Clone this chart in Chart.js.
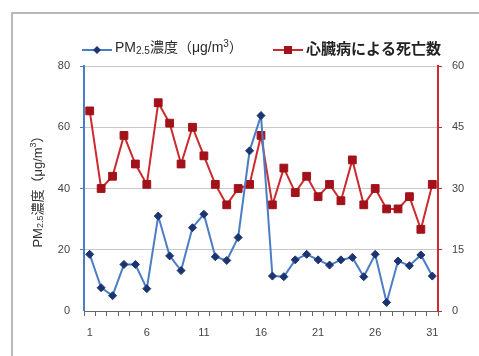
<!DOCTYPE html>
<html>
<head>
<meta charset="utf-8">
<script src="https://cdn.jsdelivr.net/npm/chart.js@4/dist/chart.umd.min.js"></script>
<style>
  body { margin: 0; background: #fff; }
  #wrap { position: relative; width: 479px; height: 356px; overflow: hidden; }
  #marco { position: absolute; left: 11px; top: 12px; width: 600px; height: 600px; border: 2px solid #b8b8b8; }
  #grafico { position: absolute; left: 0; top: 0; }
</style>
</head>
<body>
<div id="wrap">
  <div id="marco"></div>
  <canvas id="grafico" width="479" height="356"></canvas>
</div>
<script>
const dias = ['1','2','3','4','5','6','7','8','9','10','11','12','13','14','15','16',
              '17','18','19','20','21','22','23','24','25','26','27','28','29','30','31'];
const pm25 = [18.5, 7.6, 5, 15.2, 15.2, 7.3, 31, 18, 13.2, 27.2, 31.6, 17.7, 16.5, 24, 52.3, 63.8,
              11.4, 11.2, 16.7, 18.5, 16.7, 15, 16.7, 17.5, 11.2, 18.5, 2.8, 16.3, 14.8, 18.3, 11.4];
const muertes = [49, 30, 33, 43, 36, 31, 51, 46, 36, 45, 38, 31, 26, 30, 31, 43,
                 26, 35, 29, 33, 28, 31, 27, 37, 26, 30, 25, 25, 28, 20, 31];
const ticksIzq = [0, 20, 40, 60, 80];
const ticksDer = [0, 15, 30, 45, 60];

const azul = '#4a7ec4';
const azulOscuro = '#1c3470';
const rojo = '#cc2a2e';
const rojoOscuro = '#a3121a';
const fuente = "'Liberation Sans', 'Noto Sans CJK JP', sans-serif";

function textoPM(g, c) {
    return [
        { t: 'PM', s: g },
        { t: '2.5', s: c, dy: 3 },
        { t: '濃度（μg/m', s: g },
        { t: '3', s: c, dy: -4 },
        { t: '）', s: g }
    ];
}

function medir(ctx, partes) {
    let w = 0;
    partes.forEach(p => {
        ctx.font = p.s + 'px ' + fuente;
        w += ctx.measureText(p.t).width;
    });
    return w;
}

function dibujarTexto(ctx, partes, x, y) {
    partes.forEach(p => {
        ctx.font = p.s + 'px ' + fuente;
        ctx.fillText(p.t, x, y + (p.dy || 0));
        x += ctx.measureText(p.t).width;
    });
}

// leyenda estilo Excel y titulo del eje
const extras = {
    id: 'extras',
    afterDraw(chart) {
        const ctx = chart.ctx;
        ctx.save();
        ctx.textBaseline = 'middle';

        // serie azul
        ctx.strokeStyle = azul;
        ctx.lineWidth = 2;
        ctx.beginPath(); ctx.moveTo(82, 50); ctx.lineTo(112, 50); ctx.stroke();
        ctx.fillStyle = azulOscuro;
        ctx.beginPath();
        ctx.moveTo(97, 46); ctx.lineTo(101, 50); ctx.lineTo(97, 54); ctx.lineTo(93, 50);
        ctx.closePath(); ctx.fill();
        ctx.fillStyle = '#2a2a2a';
        dibujarTexto(ctx, textoPM(14, 10), 115, 48);

        // serie roja
        ctx.strokeStyle = rojo;
        ctx.beginPath(); ctx.moveTo(273, 50); ctx.lineTo(303, 50); ctx.stroke();
        ctx.fillStyle = rojoOscuro;
        ctx.fillRect(284, 46, 8, 8);
        ctx.fillStyle = '#222';
        ctx.font = 'bold 15px ' + fuente;
        ctx.fillText('心臓病による死亡数', 306, 50);

        // titulo eje izquierdo
        const a = chart.chartArea;
        const titulo = textoPM(13, 9);
        ctx.translate(38, (a.top + a.bottom) / 2);
        ctx.rotate(-Math.PI / 2);
        ctx.fillStyle = '#333';
        dibujarTexto(ctx, titulo, -medir(ctx, titulo) / 2, 0);
        ctx.restore();
    }
};

new Chart(document.getElementById('grafico'), {
    type: 'line',
    data: {
        labels: dias,
        datasets: [{
            label: 'PM2.5濃度（μg/m3）',
            data: pm25,
            yAxisID: 'y',
            borderColor: azul,
            borderWidth: 2,
            pointStyle: 'rectRot',
            pointRadius: 4,
            pointBackgroundColor: azulOscuro,
            pointBorderColor: azulOscuro,
            pointBorderWidth: 1,
            tension: 0
        }, {
            label: '心臓病による死亡数',
            data: muertes,
            yAxisID: 'y2',
            borderColor: rojo,
            borderWidth: 2,
            pointStyle: 'rect',
            pointRadius: 5.5,
            pointBackgroundColor: rojoOscuro,
            pointBorderColor: rojoOscuro,
            pointBorderWidth: 1,
            tension: 0
        }]
    },
    options: {
        responsive: false,
        animation: false,
        layout: { padding: { top: 66, left: 0, right: 0, bottom: 0 } },
        plugins: { legend: { display: false }, tooltip: { enabled: false } },
        scales: {
            x: {
                offset: true,
                afterFit: s => { s.height = 45; },
                grid: { offset: true, drawOnChartArea: false, tickLength: 5, color: '#666' },
                border: { color: '#666', width: 1 },
                ticks: {
                    autoSkip: false,
                    maxRotation: 0,
                    padding: 10,
                    color: '#444',
                    font: { family: fuente, size: 11 },
                    callback: (v, i) => (i % 5 === 0 ? dias[i] : '')
                }
            },
            y: {
                position: 'left',
                min: ticksIzq[0],
                max: ticksIzq[ticksIzq.length - 1],
                afterFit: s => { s.width = 84; },
                afterBuildTicks: s => { s.ticks = ticksIzq.map(v => ({ value: v })); },
                grid: {
                    color: '#c8c8c8',
                    tickColor: azul,
                    tickLength: 4,
                    lineWidth: c => (c.tick && c.tick.value === 0 ? 0 : 1)
                },
                border: { color: azul, width: 2 },
                ticks: { padding: 10, color: '#444', font: { family: fuente, size: 11 } }
            },
            y2: {
                position: 'right',
                min: ticksDer[0],
                max: ticksDer[ticksDer.length - 1],
                afterFit: s => { s.width = 41; },
                afterBuildTicks: s => { s.ticks = ticksDer.map(v => ({ value: v })); },
                grid: { drawOnChartArea: false, tickColor: rojo, tickLength: 4 },
                border: { color: rojo, width: 2 },
                ticks: { padding: 10, color: '#444', font: { family: fuente, size: 11 } }
            }
        }
    },
    plugins: [extras]
});
</script>
</body>
</html>
